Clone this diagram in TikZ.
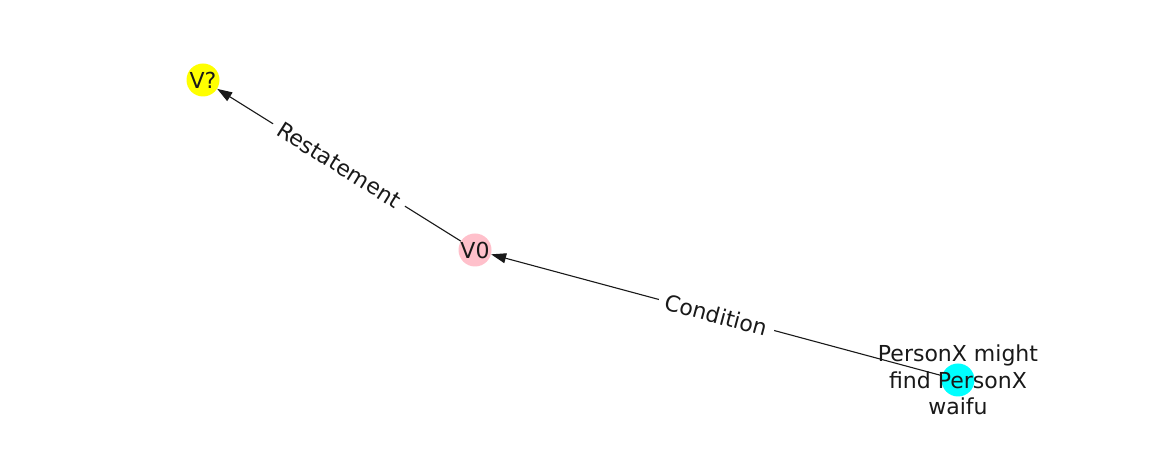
\documentclass[tikz,border=0pt]{standalone}
\usepackage{fontspec}
\setmainfont{DejaVu Sans}
\usetikzlibrary{arrows.meta}
\definecolor{nodeyellow}{RGB}{255,255,0}
\definecolor{nodepink}{RGB}{255,192,203}
\definecolor{nodecyan}{RGB}{0,255,255}

\begin{document}
\begin{tikzpicture}[x=1pt,y=1pt,
    vertex/.style={circle,minimum size=33pt,inner sep=0pt},
    vtext/.style={font=\fontsize{22}{26.5}\selectfont,align=center,text=black!90},
    edgelbl/.style={fill=white,inner xsep=7pt,inner ysep=3pt,sloped,font=\fontsize{22}{26}\selectfont,text=black!90},
    link/.style={-{Triangle[length=15pt,width=10pt]},line width=1.1pt,black!90}]
    \useasboundingbox[fill=white](0,0)rectangle(1162,462);

    \node[vertex,fill=nodeyellow,label={[vtext,name=tq]center:V?}] (vq) at(203,382){};
    \node[vertex,fill=nodepink,label={[vtext,name=t0]center:V0}] (v0) at(475,212){};
    \node[vertex,fill=nodecyan] (px) at(958,82){};

    \draw[link](v0)--(vq)node[edgelbl,midway]{Restatement};
    \draw[link](px)--(v0)node[edgelbl,midway]{Condition};

    % long label goes over the line
    \node[vtext] (tp) at(px){PersonX might\\find PersonX\\waifu};
\end{tikzpicture}
\end{document}
